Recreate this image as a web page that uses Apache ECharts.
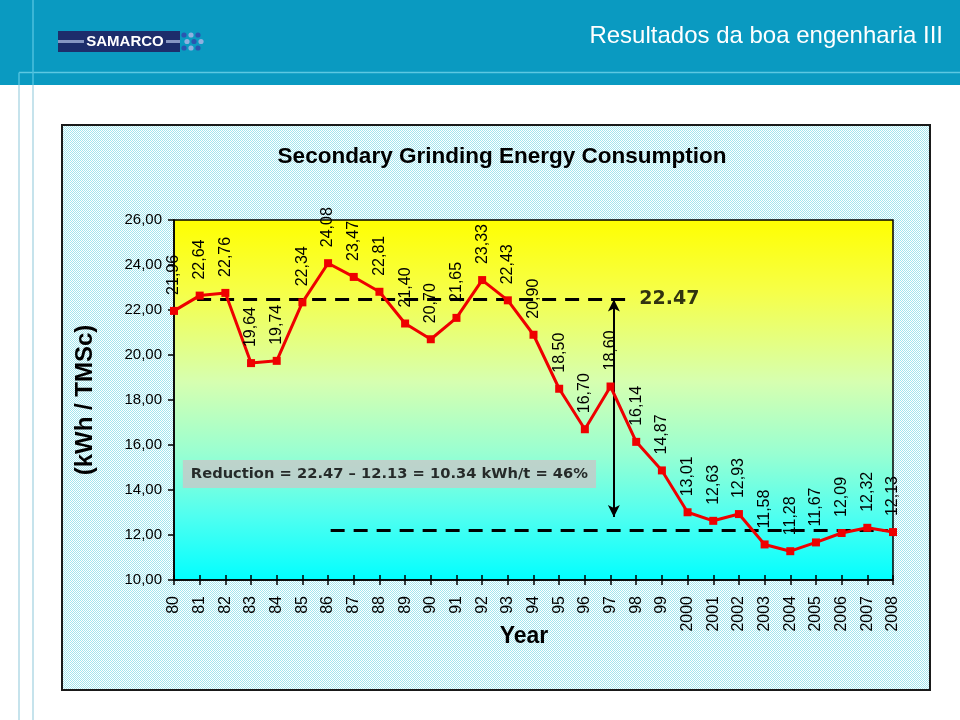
<!DOCTYPE html>
<html>
<head>
<meta charset="utf-8">
<script src="https://cdn.jsdelivr.net/npm/echarts@6/dist/echarts.min.js"></script>
<style>
  html, body { margin: 0; padding: 0; background: #ffffff; }
  #chart { width: 960px; height: 720px; }
</style>
</head>
<body>
<div id="chart"></div>
<script>
// ---------------- data ----------------
const categories = ['80','81','82','83','84','85','86','87','88','89','90','91','92','93','94','95','96','97','98','99',
  '2000','2001','2002','2003','2004','2005','2006','2007','2008'];
const consumption = [21.96, 22.64, 22.76, 19.64, 19.74, 22.34, 24.08, 23.47, 22.81, 21.40, 20.70, 21.65, 23.33, 22.43,
  20.90, 18.50, 16.70, 18.60, 16.14, 14.87, 13.01, 12.63, 12.93, 11.58, 11.28, 11.67, 12.09, 12.32, 12.13];
const yTickValues = [10, 12, 14, 16, 18, 20, 22, 24, 26];
const yTickLabels = ['10,00', '12,00', '14,00', '16,00', '18,00', '20,00', '22,00', '24,00', '26,00'];
const levelBefore = 22.47;
const levelAfter = 12.2;
const levelBeforeText = '22.47';
const reductionText = 'Reduction = 22.47 \u2013 12.13 = 10.34 kWh/t = 46%';
const chartTitle = 'Secondary Grinding Energy Consumption';
const slideTitle = 'Resultados da boa engenharia III';
const yAxisTitle = '(kWh / TMSc)';
const xAxisTitle = 'Year';

// ---------------- styles ----------------
const FONT = '"Liberation Sans", Arial, sans-serif';
const BOLDFONT2 = '"DejaVu Sans", Verdana, sans-serif';

const pc = document.createElement('canvas');
pc.width = 2; pc.height = 2;
const pctx = pc.getContext('2d');
pctx.fillStyle = '#ffffff'; pctx.fillRect(0, 0, 2, 2);
pctx.fillStyle = '#a2e6ee'; pctx.fillRect(0, 0, 1, 1); pctx.fillRect(1, 1, 1, 1);

const chart = echarts.init(document.getElementById('chart'), null, { renderer: 'canvas' });

const fmtLabel = v => v.toFixed(2).replace('.', ',');

// logo dots
const logoDots = [];
const dotCols = [184, 191, 198];
const dotRows = [35, 41.5, 48];
dotCols.forEach((cx, i) => dotRows.forEach((cy, j) => {
  logoDots.push({ type: 'circle', shape: { cx: cx + (j % 2 ? 3 : 0), cy: cy, r: 2.6 },
    style: { fill: (i + j) % 2 ? '#8fb0e0' : '#2a56b0' }, z: 5 });
}));

const option = {
  animation: false,
  backgroundColor: '#ffffff',
  graphic: [
    // slide header
    { type: 'rect', shape: { x: 0, y: 0, width: 960, height: 85 }, style: { fill: '#0a9ac1' }, z: -20 },
    { type: 'line', shape: { x1: 19, y1: 72.5, x2: 960, y2: 72.5 }, style: { stroke: '#5cc8e2', lineWidth: 1.5 }, z: -19 },
    { type: 'line', shape: { x1: 33, y1: 0, x2: 33, y2: 85 }, style: { stroke: '#4cbfdc', lineWidth: 1.5 }, z: -19 },
    { type: 'line', shape: { x1: 19, y1: 72.5, x2: 19, y2: 85 }, style: { stroke: '#4cbfdc', lineWidth: 1.5 }, z: -19 },
    { type: 'line', shape: { x1: 33, y1: 85, x2: 33, y2: 720 }, style: { stroke: '#c6e3ec', lineWidth: 2 }, z: -19 },
    { type: 'line', shape: { x1: 19, y1: 85, x2: 19, y2: 720 }, style: { stroke: '#c6e3ec', lineWidth: 2 }, z: -19 },
    // logo
    { type: 'rect', shape: { x: 58, y: 31, width: 122, height: 21 }, style: { fill: '#1d2d6b' }, z: 4 },
    { type: 'rect', shape: { x: 58, y: 40, width: 26, height: 3 }, style: { fill: '#8796c2' }, z: 4 },
    { type: 'rect', shape: { x: 166, y: 40, width: 14, height: 3 }, style: { fill: '#8796c2' }, z: 4 },
    { type: 'text', x: 125, y: 42, style: { text: 'SAMARCO', fill: '#ffffff', font: 'bold 15px ' + FONT, textAlign: 'center', textVerticalAlign: 'middle' }, z: 6 },
    ...logoDots,
    { type: 'text', x: 943, y: 36, style: { text: slideTitle, fill: '#ffffff', font: '24px ' + FONT, textAlign: 'right', textVerticalAlign: 'middle' }, z: 6 },
    // chart box
    { type: 'rect', shape: { x: 62, y: 125, width: 868, height: 565 },
      style: { fill: { image: pc, repeat: 'repeat' }, stroke: '#1a1a1a', lineWidth: 2 }, z: -10 },
    { type: 'text', x: 502, y: 157, style: { text: chartTitle, fill: '#000000', font: 'bold 22.5px ' + FONT, textAlign: 'center', textVerticalAlign: 'middle' }, z: 6 },
    { type: 'text', x: 524, y: 637, style: { text: xAxisTitle, fill: '#000000', font: 'bold 23px ' + FONT, textAlign: 'center', textVerticalAlign: 'middle' }, z: 6 }
  ],
  grid: {
    left: 174, right: 67, top: 220, bottom: 140,
    show: true,
    borderColor: '#000000', borderWidth: 1.5,
    backgroundColor: {
      type: 'linear', x: 0, y: 0, x2: 0, y2: 1,
      colorStops: [
        { offset: 0, color: '#ffff00' },
        { offset: 0.2, color: '#f6ff48' },
        { offset: 0.45, color: '#d6ffb0' },
        { offset: 0.65, color: '#98ffd2' },
        { offset: 0.82, color: '#50fff0' },
        { offset: 1, color: '#00ffff' }
      ]
    }
  },
  xAxis: [
    {
      type: 'category', data: categories, boundaryGap: false,
      axisLine: { lineStyle: { color: '#000000', width: 1.5 } },
      axisTick: { show: true, length: 5, lineStyle: { color: '#000000', width: 1.5 } },
      axisLabel: { rotate: 90, margin: 16, color: '#000000', fontSize: 16, fontFamily: FONT, interval: 0 },
      splitLine: { show: false }
    },
    {
      type: 'value', min: 0, max: 28, interval: 1, position: 'bottom',
      axisLine: { show: false },
      axisTick: { show: true, inside: true, length: 5, lineStyle: { color: '#000000', width: 1.5 } },
      axisLabel: { show: false },
      splitLine: { show: false }
    }
  ],
  yAxis: {
    type: 'value', min: 10, max: 26, interval: 2,
    name: yAxisTitle, nameLocation: 'middle', nameGap: 77, nameRotate: 90,
    nameTextStyle: { color: '#000000', fontSize: 24, fontWeight: 'bold', fontFamily: FONT },
    axisLine: { show: true, lineStyle: { color: '#000000', width: 1.5 } },
    axisTick: { show: true, length: 6, lineStyle: { color: '#000000', width: 1.5 } },
    axisLabel: { margin: 12, color: '#000000', fontSize: 15, fontFamily: FONT,
      formatter: v => yTickLabels[yTickValues.indexOf(v)] },
    splitLine: { show: false }
  },
  series: [
    {
      type: 'line', xAxisIndex: 1,
      data: [[0.9, levelBefore], [17.68, levelBefore]],
      symbol: 'none', silent: true,
      lineStyle: { color: '#000000', width: 3, type: [14, 9] },
      z: 3
    },
    {
      type: 'line', xAxisIndex: 1,
      data: [[6.1, levelAfter], [27.8, levelAfter]],
      symbol: 'none', silent: true,
      lineStyle: { color: '#000000', width: 3, type: [14, 9] },
      z: 3,
      markLine: {
        silent: true,
        symbol: ['arrow', 'arrow'], symbolSize: [9, 12],
        label: { show: false },
        lineStyle: { color: '#000000', width: 2, type: 'solid' },
        data: [[{ coord: [17.13, levelBefore] }, { coord: [17.13, 12.8] }]]
      }
    },
    {
      type: 'line', xAxisIndex: 0,
      data: consumption,
      symbol: 'rect', symbolSize: 8,
      itemStyle: { color: '#ee0000' },
      lineStyle: { color: '#ee0000', width: 3 },
      z: 5,
      label: {
        show: true, position: 'top', distance: 12, rotate: 90,
        align: 'left', verticalAlign: 'middle',
        color: '#000000', fontSize: 16, fontFamily: FONT,
        formatter: p => fmtLabel(p.value)
      }
    },
    {
      type: 'scatter', xAxisIndex: 1,
      data: [[18.1, levelBefore]],
      symbolSize: 1, itemStyle: { color: 'rgba(0,0,0,0)' }, silent: true, z: 6,
      label: {
        show: true, position: 'right', distance: 0,
        color: '#000000', fontSize: 19, fontWeight: 'bold', fontFamily: BOLDFONT2,
        formatter: () => levelBeforeText
      }
    },
    {
      type: 'scatter', xAxisIndex: 1,
      data: [[8.39, 14.71]],
      symbolSize: 1, itemStyle: { color: 'rgba(0,0,0,0)' }, silent: true, z: 6,
      label: {
        show: true, position: 'inside',
        backgroundColor: '#c8c8c8', padding: [7, 8, 6, 8],
        color: '#000000', fontSize: 14.7, fontWeight: 'bold', fontFamily: BOLDFONT2,
        formatter: () => reductionText
      }
    }
  ]
};

chart.setOption(option);
</script>
</body>
</html>
